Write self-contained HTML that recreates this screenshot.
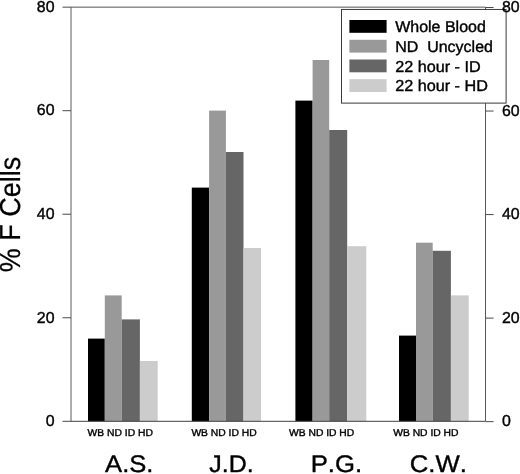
<!DOCTYPE html>
<html><head><meta charset="utf-8"><title>F Cells</title>
<style>html,body{margin:0;padding:0;background:#fff;}body{width:520px;height:474px;overflow:hidden;}svg{display:block;will-change:transform;filter:blur(0.4px);font-family:"Liberation Sans",sans-serif;font-kerning:none;text-rendering:geometricPrecision;}</style>
</head><body>
<svg width="520" height="474" viewBox="0 0 520 474">
<rect width="520" height="474" fill="#fff"/>
<rect x="88.00" y="338.60" width="16.80" height="82.70" fill="#000000"/>
<rect x="104.80" y="295.40" width="16.90" height="125.90" fill="#999999"/>
<rect x="121.70" y="319.40" width="18.20" height="101.90" fill="#666666"/>
<rect x="139.90" y="361.00" width="17.80" height="60.30" fill="#cccccc"/>
<rect x="191.80" y="187.60" width="17.30" height="233.70" fill="#000000"/>
<rect x="209.10" y="110.60" width="16.80" height="310.70" fill="#999999"/>
<rect x="225.90" y="152.00" width="17.60" height="269.30" fill="#666666"/>
<rect x="243.50" y="248.00" width="17.50" height="173.30" fill="#cccccc"/>
<rect x="295.40" y="100.60" width="17.20" height="320.70" fill="#000000"/>
<rect x="312.60" y="60.00" width="16.60" height="361.30" fill="#999999"/>
<rect x="329.20" y="130.00" width="18.00" height="291.30" fill="#666666"/>
<rect x="347.20" y="246.20" width="19.10" height="175.10" fill="#cccccc"/>
<rect x="399.00" y="335.60" width="17.00" height="85.70" fill="#000000"/>
<rect x="416.00" y="242.70" width="16.70" height="178.60" fill="#999999"/>
<rect x="432.70" y="250.80" width="18.20" height="170.50" fill="#666666"/>
<rect x="450.90" y="295.40" width="17.80" height="125.90" fill="#cccccc"/>
<g stroke-width="1" fill="none">
<line x1="71.0" y1="7.15" x2="71.0" y2="421.3" stroke="#5a5a5a"/>
<line x1="485.5" y1="7.15" x2="485.5" y2="421.3" stroke="#585858"/>
<line x1="71.0" y1="7.15" x2="485.5" y2="7.15" stroke="#555"/>
<line x1="71.0" y1="421.3" x2="485.5" y2="421.3" stroke="#404040"/>
</g>
<g stroke="#4a4a4a" stroke-width="1" fill="none">
<line x1="62.5" y1="421.30" x2="71.0" y2="421.30"/>
<line x1="485.5" y1="421.65" x2="493.6" y2="421.65"/>
<line x1="62.5" y1="317.76" x2="71.0" y2="317.76"/>
<line x1="485.5" y1="318.11" x2="493.6" y2="318.11"/>
<line x1="62.5" y1="214.22" x2="71.0" y2="214.22"/>
<line x1="485.5" y1="214.57" x2="493.6" y2="214.57"/>
<line x1="62.5" y1="110.69" x2="71.0" y2="110.69"/>
<line x1="485.5" y1="111.04" x2="493.6" y2="111.04"/>
<line x1="62.5" y1="7.15" x2="71.0" y2="7.15"/>
<line x1="485.5" y1="7.50" x2="493.6" y2="7.50"/>
</g>
<rect x="341.5" y="9.45" width="164.6" height="93.65" fill="#fff" stroke="#3a3a3a" stroke-width="1"/>
<rect x="349.4" y="20.0" width="37.2" height="12.8" fill="#000000"/>
<text transform="translate(395.2,32.2) scale(1.012,1)" font-size="15.8" text-anchor="start" fill="#000" stroke="#000" stroke-width="0.38" xml:space="preserve">Whole Blood</text>
<rect x="349.4" y="39.8" width="37.2" height="12.8" fill="#999999"/>
<text transform="translate(395.2,52.0) scale(1.012,1)" font-size="15.8" text-anchor="start" fill="#000" stroke="#000" stroke-width="0.38" xml:space="preserve">ND&#160;&#160;Uncycled</text>
<rect x="349.4" y="59.5" width="37.2" height="12.8" fill="#666666"/>
<text transform="translate(395.2,71.7) scale(1.025,1)" font-size="15.8" text-anchor="start" fill="#000" stroke="#000" stroke-width="0.38" xml:space="preserve">22 hour - ID</text>
<rect x="349.4" y="79.2" width="37.2" height="12.8" fill="#cccccc"/>
<text transform="translate(395.2,91.4) scale(1.025,1)" font-size="15.8" text-anchor="start" fill="#000" stroke="#000" stroke-width="0.38" xml:space="preserve">22 hour - HD</text>
<g font-size="15.6" fill="#000">
<text transform="translate(54.5,426.05) scale(1.0,1)" font-size="15.9" text-anchor="end" fill="#000" stroke="#000" stroke-width="0.38" xml:space="preserve">0</text>
<text transform="translate(502.0,426.3) scale(1.0,1)" font-size="15.9" text-anchor="start" fill="#000" stroke="#000" stroke-width="0.38" xml:space="preserve">0</text>
<text transform="translate(54.5,322.51) scale(1.0,1)" font-size="15.9" text-anchor="end" fill="#000" stroke="#000" stroke-width="0.38" xml:space="preserve">20</text>
<text transform="translate(502.0,322.76) scale(1.0,1)" font-size="15.9" text-anchor="start" fill="#000" stroke="#000" stroke-width="0.38" xml:space="preserve">20</text>
<text transform="translate(54.5,218.97) scale(1.0,1)" font-size="15.9" text-anchor="end" fill="#000" stroke="#000" stroke-width="0.38" xml:space="preserve">40</text>
<text transform="translate(502.0,219.22) scale(1.0,1)" font-size="15.9" text-anchor="start" fill="#000" stroke="#000" stroke-width="0.38" xml:space="preserve">40</text>
<text transform="translate(54.5,115.44) scale(1.0,1)" font-size="15.9" text-anchor="end" fill="#000" stroke="#000" stroke-width="0.38" xml:space="preserve">60</text>
<text transform="translate(502.0,115.69) scale(1.0,1)" font-size="15.9" text-anchor="start" fill="#000" stroke="#000" stroke-width="0.38" xml:space="preserve">60</text>
<text transform="translate(54.5,11.9) scale(1.0,1)" font-size="15.9" text-anchor="end" fill="#000" stroke="#000" stroke-width="0.38" xml:space="preserve">80</text>
<text transform="translate(502.0,12.15) scale(1.0,1)" font-size="15.9" text-anchor="start" fill="#000" stroke="#000" stroke-width="0.38" xml:space="preserve">80</text>
</g>
<text transform="translate(87.6,435.9) scale(1.03,1)" font-size="10" text-anchor="start" fill="#000" stroke="#000" stroke-width="0.38" xml:space="preserve">WB ND ID HD</text>
<text transform="translate(105.1,472.4) scale(1.065,1)" font-size="24" text-anchor="start" fill="#000" stroke="#000" stroke-width="0.38" xml:space="preserve">A.S.</text>
<text transform="translate(191.4,435.9) scale(1.03,1)" font-size="10" text-anchor="start" fill="#000" stroke="#000" stroke-width="0.38" xml:space="preserve">WB ND ID HD</text>
<text transform="translate(209.3,472.4) scale(1.04,1)" font-size="24" text-anchor="start" fill="#000" stroke="#000" stroke-width="0.38" xml:space="preserve">J.D.</text>
<text transform="translate(289.0,435.9) scale(1.03,1)" font-size="10" text-anchor="start" fill="#000" stroke="#000" stroke-width="0.38" xml:space="preserve">WB ND ID HD</text>
<text transform="translate(310.7,472.4) scale(1.07,1)" font-size="24" text-anchor="start" fill="#000" stroke="#000" stroke-width="0.38" xml:space="preserve">P.G.</text>
<text transform="translate(393.2,435.9) scale(1.03,1)" font-size="10" text-anchor="start" fill="#000" stroke="#000" stroke-width="0.38" xml:space="preserve">WB ND ID HD</text>
<text transform="translate(409.8,472.4) scale(1.07,1)" font-size="24" text-anchor="start" fill="#000" stroke="#000" stroke-width="0.38" xml:space="preserve">C.W.</text>
<text transform="translate(20.4,272.3) rotate(-90) scale(1,1.07)" font-size="27" fill="#000" stroke="#000" stroke-width="0.25">% F Cells</text>
</svg></body></html>
